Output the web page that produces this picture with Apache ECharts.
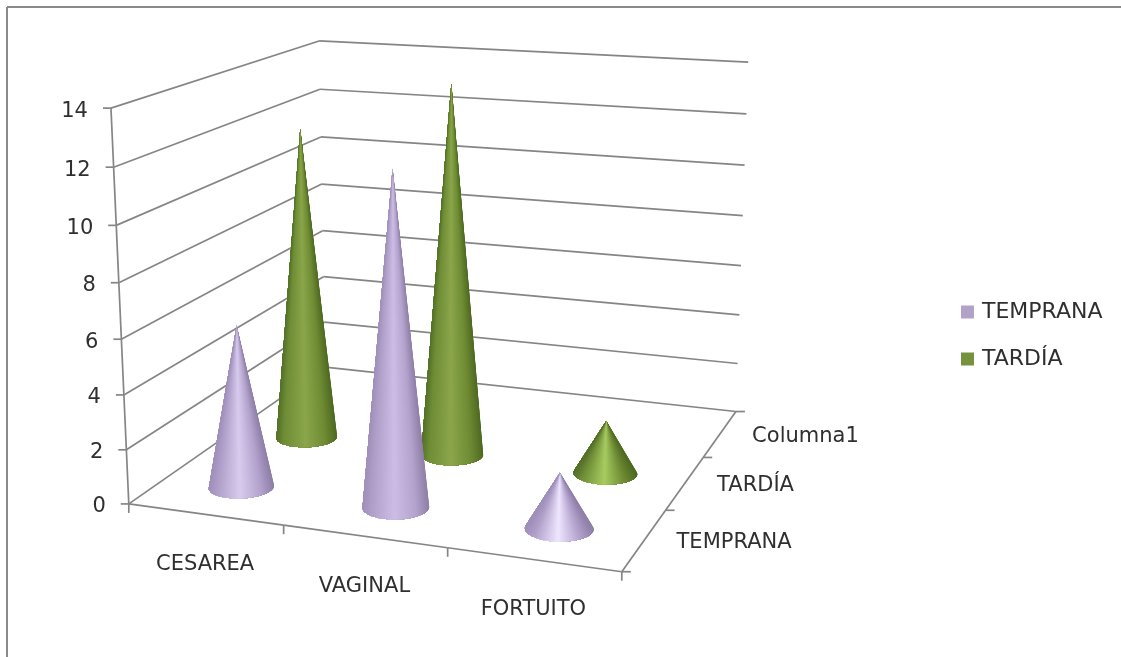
<!DOCTYPE html>
<html>
<head>
<meta charset="utf-8">
<style>html,body{margin:0;padding:0;background:#fff}#chart{width:1121px;height:657px}</style>
<script src="https://cdn.jsdelivr.net/npm/echarts@6/dist/echarts.min.js"></script>
</head>
<body>
<div id="chart"></div>
<script>
// Chart content
const categories = ['CESAREA', 'VAGINAL', 'FORTUITO'];
const depthLabels = ['TEMPRANA', 'TARDÍA', 'Columna1'];
const yTicks = [0, 2, 4, 6, 8, 10, 12, 14];
const temprana = [6, 12, 2];
const tardia = [12, 14, 2];

// Camera calibration: world point [category, depth, value] -> screen point
const cameraAnchors = [
  [0, 0, 0, 128, 503], [3, 0, 0, 622, 572], [3, 3, 0, 735, 411], [0, 3, 0, 326, 368],
  [0, 0, 14, 112, 108], [0, 3, 14, 318, 41], [3, 3, 14, 748, 62],
  [0, 0, 6, 121, 340], [0, 3, 6, 323, 230], [3, 3, 6, 742, 266]
];

function solveCamera(anchors) {
  const rows = [], rhs = [];
  anchors.forEach(([X, Y, Z, x, y]) => {
    rows.push([X, Y, Z, 1, 0, 0, 0, 0, -x * X, -x * Y, -x * Z]); rhs.push(x);
    rows.push([0, 0, 0, 0, X, Y, Z, 1, -y * X, -y * Y, -y * Z]); rhs.push(y);
  });
  const n = 11;
  const m = [];
  for (let i = 0; i < n; i++) {
    m.push(new Array(n + 1).fill(0));
    for (let j = 0; j < n; j++) rows.forEach(r => { m[i][j] += r[i] * r[j]; });
    rows.forEach((r, k) => { m[i][n] += r[i] * rhs[k]; });
  }
  for (let c = 0; c < n; c++) {
    let p = c;
    for (let i = c + 1; i < n; i++) if (Math.abs(m[i][c]) > Math.abs(m[p][c])) p = i;
    [m[c], m[p]] = [m[p], m[c]];
    for (let i = 0; i < n; i++) {
      if (i === c) continue;
      const f = m[i][c] / m[c][c];
      for (let j = c; j <= n; j++) m[i][j] -= f * m[c][j];
    }
  }
  return m.map((r, i) => r[n] / r[i]);
}
const cam = solveCamera(cameraAnchors);
function project(u, v, w) {
  const d = cam[8] * u + cam[9] * v + cam[10] * w + 1;
  return [
    (cam[0] * u + cam[1] * v + cam[2] * w + cam[3]) / d,
    (cam[4] * u + cam[5] * v + cam[6] * w + cam[7]) / d
  ];
}

// The hidden grid fills the canvas, so its scales turn a datum into world units
function toWorld(params, api, cat, value) {
  const cs = params.coordSys;
  const flat = api.coord([cat, value]);
  return {
    u: (flat[0] - cs.x) / (cs.width / categories.length),
    w: (cs.y + cs.height - flat[1]) / cs.height * yTicks[yTicks.length - 1]
  };
}

const lineColor = '#858585';
const textColor = '#2f2f2f';
const fontFamily = '"DejaVu Sans"';
const labelSize = 21;

function seg(a, b) {
  return {
    type: 'line',
    shape: { x1: a[0], y1: a[1], x2: b[0], y2: b[1] },
    style: { stroke: lineColor, lineWidth: 1.7 }
  };
}
function label(text, x, y, align) {
  return {
    type: 'text',
    style: { text, x, y, align, verticalAlign: 'middle', fill: textColor, fontSize: labelSize, fontFamily }
  };
}

// Wall gridlines, the value axis and its labels
function renderLevel(params, api) {
  const { w } = toWorld(params, api, 0, api.value(1));
  const fl = project(0, 0, w), bl = project(0, 3, w), br = project(3, 3, w);
  const kids = [seg(fl, bl), seg(bl, br), seg([fl[0] - 8, fl[1]], fl), label(String(api.value(1)), fl[0] - 23, fl[1] + 3, 'right')];
  if (api.value(1) > 0) {
    const below = project(0, 0, toWorld(params, api, 0, api.value(1) - 2).w);
    kids.push(seg(below, fl));
  }
  return { type: 'group', children: kids };
}

// Floor edges with ticks and the category labels
function renderCategory(params, api) {
  const i = params.dataIndex;
  const a = project(i, 0, 0), b = project(i + 1, 0, 0), mid = project(i + 0.5, 0, 0);
  const kids = [seg(a, b), seg(a, [a[0], a[1] + 9]), label(categories[i], mid[0], mid[1] + 50, 'center')];
  if (i === categories.length - 1) kids.push(seg(b, [b[0], b[1] + 9]));
  return { type: 'group', children: kids };
}

// Side floor edge with ticks and the depth labels
function renderDepth(params, api) {
  const i = params.dataIndex;
  const a = project(3, i, 0), b = project(3, i + 1, 0), mid = project(3, i + 0.5, 0);
  const kids = [seg(a, b), seg(a, [a[0] + 9, a[1]]), label(depthLabels[i], mid[0] + 32, mid[1] + 3, 'left')];
  if (i === depthLabels.length - 1) kids.push(seg(b, [b[0] + 9, b[1]]));
  return { type: 'group', children: kids };
}

function hex2rgb(h) { return [1, 3, 5].map(i => parseInt(h.substr(i, 2), 16)); }
function mix(c1, c2, t) {
  const a = hex2rgb(c1), b = hex2rgb(c2);
  return '#' + a.map((v, i) => Math.round(v + (b[i] - v) * t).toString(16).padStart(2, '0')).join('');
}
function ramp(stops, f) {
  for (let i = 1; i < stops.length; i++) {
    if (f <= stops[i][0]) {
      return mix(stops[i - 1][1], stops[i][1], (f - stops[i - 1][0]) / (stops[i][0] - stops[i - 1][0]));
    }
  }
  return stops[stops.length - 1][1];
}

function hull(pts) {
  const s = pts.map((p, i) => ({ p, i })).sort((a, b) => a.p[0] - b.p[0] || a.p[1] - b.p[1]);
  const cross = (o, a, b) => (a.p[0] - o.p[0]) * (b.p[1] - o.p[1]) - (a.p[1] - o.p[1]) * (b.p[0] - o.p[0]);
  const half = list => {
    const out = [];
    list.forEach(q => {
      while (out.length > 1 && cross(out[out.length - 2], out[out.length - 1], q) <= 0) out.pop();
      out.push(q);
    });
    out.pop();
    return out;
  };
  return half(s).concat(half(s.slice().reverse()));
}

// A cone standing on the floor: nested wedges fanned from the apex, shaded by facing
const coneRadiusU = 0.195;
const coneRadiusV = 0.205;
const shades = {
  temprana: { l0: '#a08fba', l1: '#ae9ec8', cTall: '#cdbde6', cShort: '#efe6ff', r1: '#b3a3cd', r0: '#8f7fa8' },
  tardia: { l0: '#55712a', l1: '#6f8d36', cTall: '#8ba64b', cShort: '#a8cc60', r1: '#6f8c34', r0: '#4f6a22' }
};
function coneRenderer(depth, shade) {
  return function (params, api) {
    const value = api.value(1);
    const { u, w } = toWorld(params, api, api.value(0), value);
    const apex = project(u, depth, w);
    const pts = [apex];
    const N = 96;
    for (let k = 0; k < N; k++) {
      const a = 2 * Math.PI * k / N;
      pts.push(project(u + coneRadiusU * Math.cos(a), depth + coneRadiusV * Math.sin(a), 0));
    }
    const h = hull(pts);
    const start = h.findIndex(q => q.i === 0);
    const arc = h.slice(start + 1).concat(h.slice(0, start)).map(q => q.p);
    const xs = arc.map(p => p[0]);
    const minX = Math.min(...xs), maxX = Math.max(...xs);
    const center = mix(shade.cShort, shade.cTall, Math.min(1, (value - 2) / 6));
    const stops = [[0, shade.l0], [0.12, shade.l1], [0.48, center], [0.8, shade.r1], [1, shade.r0]];
    const children = [];
    for (let i = 0; i + 1 < arc.length; i++) {
      const f = ((arc[i][0] + arc[i + 1][0]) / 2 - minX) / (maxX - minX);
      children.push({
        type: 'polygon',
        shape: { points: [apex].concat(arc.slice(i)) },
        style: { fill: ramp(stops, f) }
      });
    }
    return { type: 'group', children };
  };
}

function coneSeries(name, values, depth, shade, color, z) {
  return {
    name, type: 'custom', z,
    itemStyle: { color },
    renderItem: coneRenderer(depth, shade),
    encode: { x: 0, y: 1 },
    data: values.map((v, i) => [i, v])
  };
}

const chart = echarts.init(document.getElementById('chart'));
chart.setOption({
  animation: false,
  backgroundColor: '#ffffff',
  grid: { left: 0, right: 0, top: 0, bottom: 0 },
  xAxis: { type: 'category', data: categories, show: false },
  yAxis: { type: 'value', min: 0, max: 14, interval: 2, show: false },
  legend: {
    data: ['TEMPRANA', 'TARDÍA'],
    orient: 'vertical',
    left: 961,
    top: 301,
    padding: 0,
    icon: 'rect',
    itemWidth: 13,
    itemHeight: 13,
    itemGap: 25,
    selectedMode: false,
    textStyle: { color: textColor, fontSize: 22, fontFamily, padding: [4, 0, 0, 3] }
  },
  graphic: [
    { type: 'line', shape: { x1: 7, y1: 7, x2: 1121, y2: 7 }, style: { stroke: '#8a8a8a', lineWidth: 2 } },
    { type: 'line', shape: { x1: 7, y1: 7, x2: 7, y2: 657 }, style: { stroke: '#8a8a8a', lineWidth: 2 } }
  ],
  series: [
    { name: 'levels', type: 'custom', z: 1, renderItem: renderLevel, encode: { x: 0, y: 1 }, data: yTicks.map(t => [0, t]) },
    { name: 'categoryEdge', type: 'custom', z: 1, renderItem: renderCategory, encode: { x: 0, y: 1 }, data: categories.map((c, i) => [i, 0]) },
    { name: 'depthEdge', type: 'custom', z: 1, renderItem: renderDepth, encode: { x: 0, y: 1 }, data: depthLabels.map(() => [0, 0]) },
    coneSeries('TARDÍA', tardia, 1.5, shades.tardia, '#76923c', 2),
    coneSeries('TEMPRANA', temprana, 0.5, shades.temprana, '#b3a2c7', 3)
  ]
});
</script>
</body>
</html>
